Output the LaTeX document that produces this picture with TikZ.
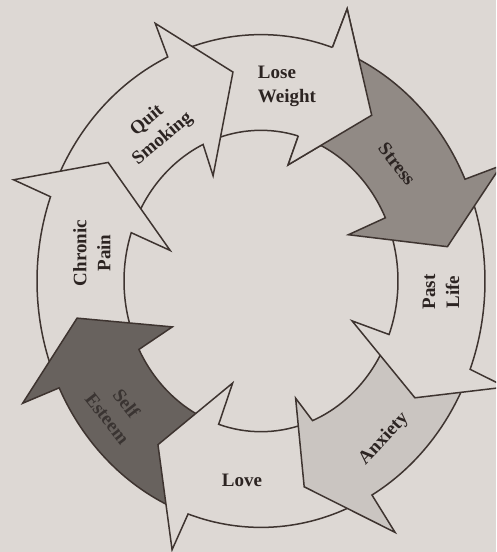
\documentclass[tikz,border=0pt]{standalone}
\usepackage{fontspec}
\setmainfont{Liberation Serif}
\definecolor{paper}{RGB}{221,216,212}
\definecolor{ink}{RGB}{62,52,48}
\definecolor{txt}{RGB}{44,36,34}
\definecolor{stress}{RGB}{145,138,133}
\definecolor{esteem}{RGB}{104,98,94}
\definecolor{esteemtxt}{RGB}{58,52,50}
\definecolor{anxiety}{RGB}{202,197,193}

\begin{document}
\begin{tikzpicture}[x=1pt,y=1pt,
seg/.style={draw=ink,line width=1.5pt,line join=miter},
lbl/.style={font=\bfseries\fontsize{19}{24}\selectfont,text=txt,align=center,inner sep=0pt}
]
\useasboundingbox (0,0) rectangle (496,-552);
\clip (0,0) rectangle (496,-552);
\fill[paper] (0,0) rectangle (496,-552);
\begin{scope}[shift={(261,-281)},yscale=1.1]
% Lose Weight
\filldraw[seg,fill=paper] (110.6:224) arc[start angle=110.6,end angle=71.4,radius=224] -- (70.8:262) -- (53.7:187) -- (75.6:109) -- (74.2:137) arc[start angle=74.2,end angle=111,radius=137] -- cycle;
% Quit Smoking
\filldraw[seg,fill=paper] (156:224) arc[start angle=156,end angle=114.6,radius=224] -- (114.3:257) -- (98.4:192) -- (116.6:107) -- (115:137) arc[start angle=115,end angle=157.3,radius=137] -- cycle;
% Chronic Pain
\filldraw[seg,fill=paper] (201.7:224) arc[start angle=201.7,end angle=160,radius=224] -- (159.6:264) -- (144.8:187) -- (163:95) -- (161.3:137) arc[start angle=161.3,end angle=203,radius=137] -- cycle;
% Self Esteem
\filldraw[seg,fill=esteem] (-113:224) arc[start angle=-113,end angle=-154.3,radius=224] -- (-155:263) -- (-169.6:187) -- (-154.8:98) -- (-153:137) arc[start angle=-153,end angle=-112,radius=137] -- cycle;
% Love
\filldraw[seg,fill=paper] (-64.3:224) arc[start angle=-64.3,end angle=-109,radius=224] -- (-110:260) -- (-124.7:181) -- (-107:97) -- (-108:137) arc[start angle=-108,end angle=-71.9,radius=137] -- cycle;
% Anxiety
\filldraw[seg,fill=anxiety] (-24:224) arc[start angle=-24,end angle=-60.3,radius=224] -- (-59.6:265) -- (-77:192) -- (-72:112) -- (-67.9:137) arc[start angle=-67.9,end angle=-25,radius=137] -- cycle;
% Past Life
\filldraw[seg,fill=paper] (20.4:224) arc[start angle=20.4,end angle=-21,radius=224] -- (-21.5:263) -- (-34.6:187) -- (-21.7:98) -- (-20.8:137) arc[start angle=-20.8,end angle=20.8,radius=137] -- cycle;
% Stress
\filldraw[seg,fill=stress] (67.4:224) arc[start angle=67.4,end angle=24.4,radius=224] -- (23.6:262) -- (9.5:189) -- (25.7:97) -- (24.8:137) arc[start angle=24.8,end angle=70.2,radius=137] -- cycle;
% Lose Weight head again, over the Stress tail
\filldraw[seg,fill=paper] (71.4:224) -- (70.8:262) -- (53.7:187) -- (75.6:109) -- (74.2:137);
\end{scope}
\node[lbl,align=left] (lose) at (287,-86) {Lose\\Weight};
\node[lbl,rotate=40] (quit) at (155,-130) {Quit\\Smoking};
\node[lbl,rotate=-52] (stress) at (397,-164) {Stress};
\node[lbl,rotate=90] (past) at (441,-292) {Past\\Life};
\node[lbl,rotate=47] (anxiety) at (384,-439) {Anxiety};
\node[lbl] (love) at (242,-480) {Love};
\node[lbl,rotate=-52,text=esteemtxt] (esteem) at (117,-411) {Self\\Esteem};
\node[lbl,rotate=90] (chronic) at (92,-253) {Chronic\\Pain};
\end{tikzpicture}
\end{document}
